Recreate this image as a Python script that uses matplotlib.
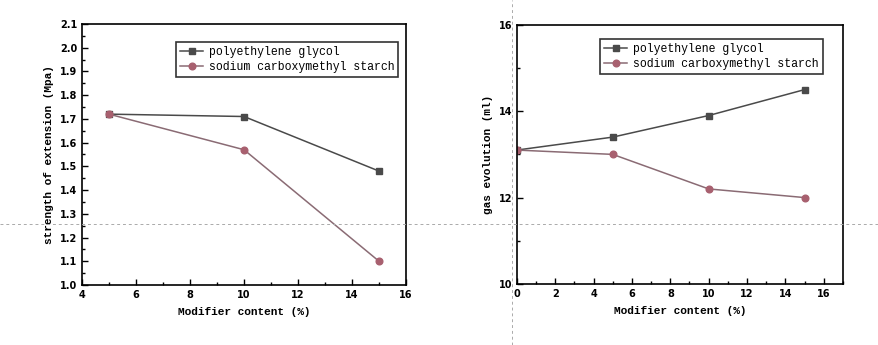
import matplotlib
matplotlib.use("Agg")
import matplotlib.pyplot as plt
from matplotlib.ticker import MultipleLocator
from matplotlib.lines import Line2D

# data
x_left = [5, 10, 15]
peg_strength = [1.72, 1.71, 1.48]
cms_strength = [1.72, 1.57, 1.10]

x_right = [0, 5, 10, 15]
peg_gas = [13.1, 13.4, 13.9, 14.5]
cms_gas = [13.1, 13.0, 12.2, 12.0]

labels = ["polyethylene glycol", "sodium carboxymethyl starch"]
xlabel = "Modifier content (%)"
ylabel_left = "strength of extension (Mpa)"
ylabel_right = "gas evolution (ml)"

peg_c = "#4a4a4a"
cms_line = "#8a6b74"
cms_c = "#a8606f"
mono = "Liberation Mono"

fig = plt.figure(figsize=(8.79, 3.45), dpi=100)
ax1 = fig.add_axes([0.0933, 0.174, 0.3686, 0.7565])
ax2 = fig.add_axes([0.588, 0.177, 0.371, 0.751])


def style(ax):
    for s in ax.spines.values():
        s.set_linewidth(1.2)
    ax.tick_params(which="both", direction="in", top=False, right=False,
                   labelsize=7, width=1)
    ax.tick_params(which="major", length=4)
    ax.tick_params(which="minor", length=2.5)
    for lab in ax.get_xticklabels() + ax.get_yticklabels():
        lab.set_fontweight("bold")
        lab.set_fontfamily("DejaVu Sans")


ax1.plot(x_left, peg_strength, color=peg_c, lw=1.1, marker="s", ms=3.8,
         mfc=peg_c, mec=peg_c, label=labels[0])
ax1.plot(x_left, cms_strength, color=cms_line, lw=1.1, marker="o", ms=4.8,
         mfc=cms_c, mec=cms_c, label=labels[1])
ax1.set_xlim(4, 16)
ax1.set_ylim(1.0, 2.1)
ax1.xaxis.set_major_locator(MultipleLocator(2))
ax1.xaxis.set_minor_locator(MultipleLocator(1))
ax1.yaxis.set_major_locator(MultipleLocator(0.1))
ax1.yaxis.set_minor_locator(MultipleLocator(0.05))
ax1.set_xlabel(xlabel, family=mono, fontsize=8, fontweight="bold", labelpad=5)
ax1.set_ylabel(ylabel_left, family=mono, fontsize=8, fontweight="bold", labelpad=4)
style(ax1)

ax2.plot(x_right, peg_gas, color=peg_c, lw=1.1, marker="s", ms=3.8,
         mfc=peg_c, mec=peg_c, label=labels[0])
ax2.plot(x_right, cms_gas, color=cms_line, lw=1.1, marker="o", ms=4.8,
         mfc=cms_c, mec=cms_c, label=labels[1])
ax2.set_xlim(0, 17)
ax2.set_ylim(10, 16)
ax2.xaxis.set_major_locator(MultipleLocator(2))
ax2.xaxis.set_minor_locator(MultipleLocator(1))
ax2.yaxis.set_major_locator(MultipleLocator(2))
ax2.yaxis.set_minor_locator(MultipleLocator(1))
ax2.set_xlabel(xlabel, family=mono, fontsize=8, fontweight="bold", labelpad=5)
ax2.set_ylabel(ylabel_right, family=mono, fontsize=8, fontweight="bold", labelpad=4)
style(ax2)

for ax, anchor in ((ax1, (0.29, 0.93)), (ax2, (0.255, 0.945))):
    leg = ax.legend(loc="upper left", bbox_to_anchor=anchor,
                    prop={"family": mono, "size": 8.3}, frameon=True,
                    fancybox=False, borderpad=0.35, handlelength=2.0,
                    handletextpad=0.5, labelspacing=0.25, borderaxespad=0)
    leg.get_frame().set_edgecolor("black")
    leg.get_frame().set_linewidth(1.2)

# faint dashed guide lines that run across the picture
fig.add_artist(Line2D([0, 1], [1 - 224 / 345] * 2, transform=fig.transFigure,
                      color="#aaaaaa", lw=0.7, ls=(0, (3, 3))))
fig.add_artist(Line2D([512 / 879] * 2, [0, 1], transform=fig.transFigure,
                      color="#aaaaaa", lw=0.7, ls=(0, (3, 3))))

fig.savefig("out.png", dpi=100, facecolor="white")
